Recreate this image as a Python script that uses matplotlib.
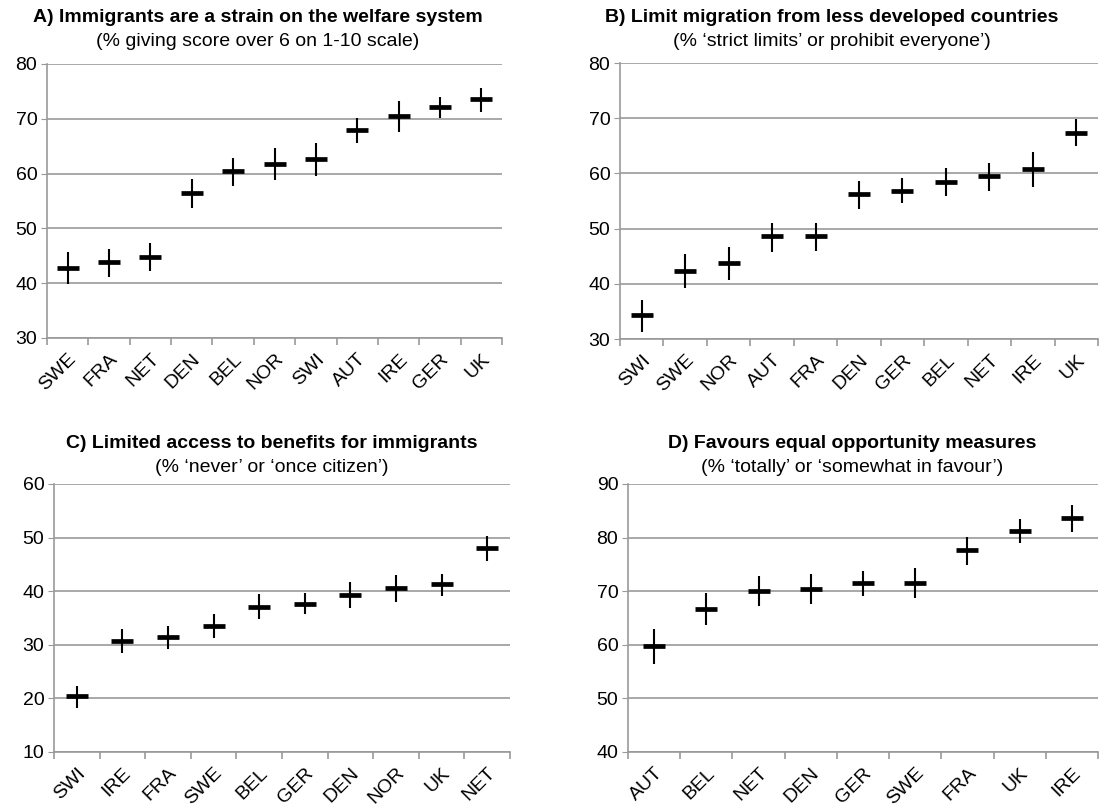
import matplotlib
matplotlib.use("Agg")
import matplotlib.pyplot as plt
import matplotlib.transforms as mtransforms
import numpy as np

plt.rcParams["font.family"] = ["Liberation Sans", "DejaVu Sans"]

# Panel A
a_countries = ["SWE", "FRA", "NET", "DEN", "BEL", "NOR", "SWI", "AUT", "IRE", "GER", "UK"]
a_values = [42.8, 43.8, 44.8, 56.5, 60.5, 61.8, 62.7, 68.0, 70.5, 72.2, 73.7]
a_low = [39.8, 41.2, 42.2, 53.8, 57.7, 58.8, 59.6, 65.5, 67.5, 70.2, 71.3]
a_high = [45.7, 46.3, 47.3, 59.0, 62.8, 64.6, 65.5, 70.2, 73.3, 74.0, 75.7]

# Panel B
b_countries = ["SWI", "SWE", "NOR", "AUT", "FRA", "DEN", "GER", "BEL", "NET", "IRE", "UK"]
b_values = [34.3, 42.3, 43.7, 48.6, 48.7, 56.2, 56.9, 58.5, 59.6, 60.8, 67.4]
b_low = [31.3, 39.2, 40.6, 45.8, 46.0, 53.6, 54.6, 55.9, 56.9, 57.6, 65.0]
b_high = [37.0, 45.4, 46.6, 51.0, 51.1, 58.7, 59.1, 61.0, 61.9, 63.8, 69.9]

# Panel C
c_countries = ["SWI", "IRE", "FRA", "SWE", "BEL", "GER", "DEN", "NOR", "UK", "NET"]
c_values = [20.5, 30.8, 31.5, 33.6, 37.1, 37.7, 39.3, 40.6, 41.3, 48.1]
c_low = [18.3, 28.4, 29.3, 31.3, 34.8, 35.8, 36.8, 38.0, 39.1, 45.7]
c_high = [22.4, 33.0, 33.5, 35.8, 39.4, 39.6, 41.7, 43.0, 43.3, 50.3]

# Panel D
d_countries = ["AUT", "BEL", "NET", "DEN", "GER", "SWE", "FRA", "UK", "IRE"]
d_values = [59.8, 66.7, 70.1, 70.4, 71.5, 71.6, 77.6, 81.2, 83.6]
d_low = [56.4, 63.7, 67.3, 67.6, 69.1, 68.7, 74.9, 79.0, 81.0]
d_high = [62.9, 69.7, 72.9, 73.3, 73.8, 74.4, 80.2, 83.4, 86.1]

W, H = 1102, 811
fig = plt.figure(figsize=(W / 100, H / 100), dpi=100)
GRID = "#999999"
FS = 14


def px_axes(left, top, right, bottom):
    return fig.add_axes([left / W, 1 - bottom / H, (right - left) / W, (bottom - top) / H])


def panel(ax, countries, values, low, high, ylim, title, subtitle, tx, ty):
    x = np.arange(len(countries))
    vals = np.array(values)
    yerr = [vals - np.array(low), np.array(high) - vals]
    ax.errorbar(x, vals, yerr=yerr, fmt="none", ecolor="black", elinewidth=1.5, capsize=0, zorder=3)
    ax.plot(x, vals, linestyle="none", marker="_", markersize=16, markeredgewidth=3.4,
            color="black", zorder=4)
    ax.set_xlim(-0.5, len(countries) - 0.5)
    ax.set_ylim(*ylim)
    ax.set_yticks(np.arange(ylim[0], ylim[1] + 1, 10))
    ax.yaxis.grid(True, color=GRID, linewidth=1.2)
    ax.set_axisbelow(True)
    for s in ["top", "right"]:
        ax.spines[s].set_visible(False)
    for s in ["left", "bottom"]:
        ax.spines[s].set_color(GRID)
        ax.spines[s].set_linewidth(1.2)
    ax.tick_params(axis="y", length=4, color=GRID, labelsize=FS, pad=3)
    ax.set_xticks(np.arange(-0.5, len(countries), 1.0))
    ax.set_xticklabels([])
    ax.set_xticks(x, minor=True)
    ax.set_xticklabels(countries, minor=True, rotation=45, ha="right",
                       rotation_mode="anchor", fontsize=FS)
    shift = mtransforms.ScaledTranslation(5 / 100, 0, fig.dpi_scale_trans)
    for lbl in ax.get_xticklabels(minor=True):
        lbl.set_transform(lbl.get_transform() + shift)
    ax.tick_params(axis="x", which="major", length=5, color=GRID, width=1.2)
    ax.tick_params(axis="x", which="minor", length=0, pad=9)
    fig.text(tx / W, 1 - ty / H, title, ha="center", va="center", fontsize=FS, fontweight="bold")
    fig.text(tx / W, 1 - (ty + 24) / H, subtitle, ha="center", va="center", fontsize=FS)


axA = px_axes(47, 64, 502, 338)
panel(axA, a_countries, a_values, a_low, a_high, (30, 80),
      "A) Immigrants are a strain on the welfare system",
      "(% giving score over 6 on 1-10 scale)", 258, 17)

axB = px_axes(620, 63, 1098, 339)
panel(axB, b_countries, b_values, b_low, b_high, (30, 80),
      "B) Limit migration from less developed countries",
      "(% \u2018strict limits\u2019 or prohibit everyone\u2019)", 832, 17)

axC = px_axes(54, 484, 510, 752)
panel(axC, c_countries, c_values, c_low, c_high, (10, 60),
      "C) Limited access to benefits for immigrants",
      "(% \u2018never\u2019 or \u2018once citizen\u2019)", 272, 443)

axD = px_axes(628, 484, 1098, 752)
panel(axD, d_countries, d_values, d_low, d_high, (40, 90),
      "D) Favours equal opportunity measures",
      "(% \u2018totally\u2019 or \u2018somewhat in favour\u2019)", 852, 443)

fig.savefig("out.png", dpi=100)
